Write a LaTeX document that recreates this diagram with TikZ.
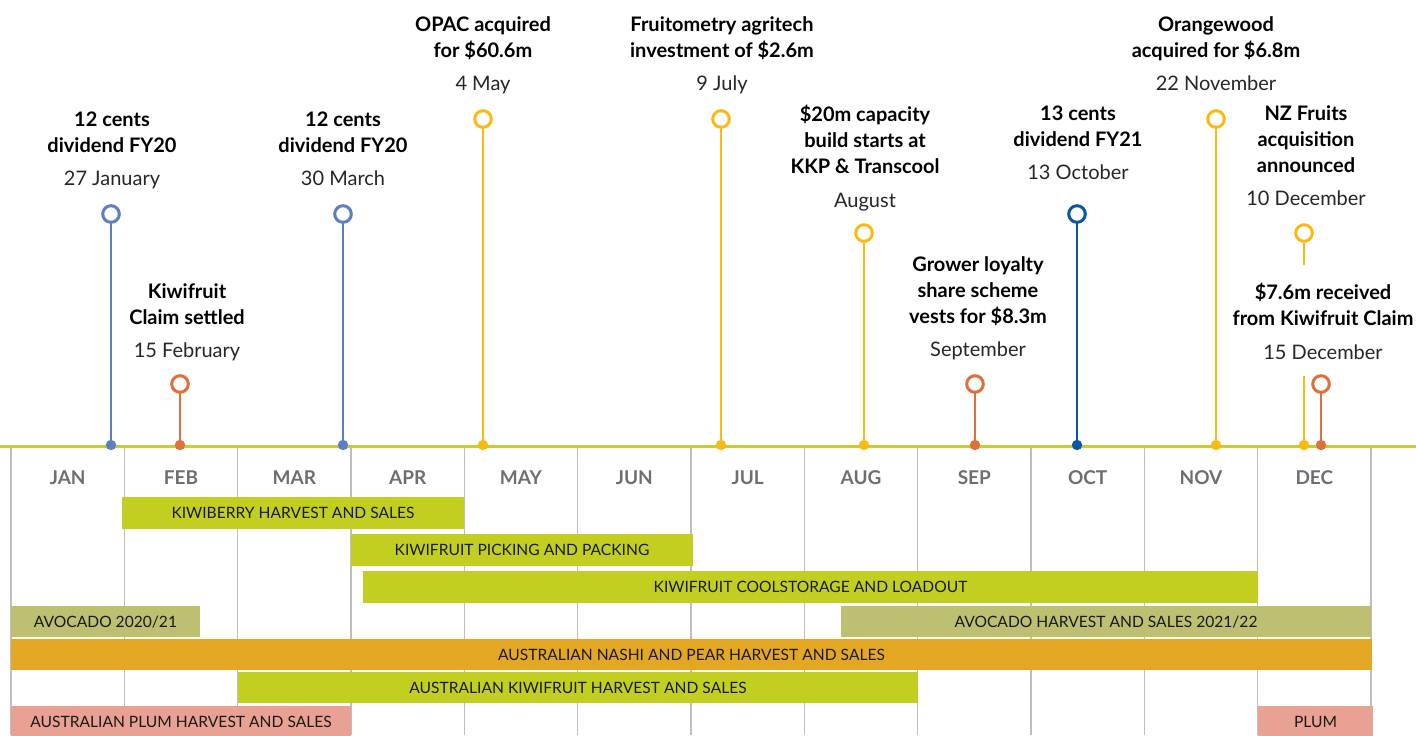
\documentclass[tikz,border=0pt]{standalone}
\usepackage{fontspec}
\setmainfont{Lato}
\usepackage{xcolor}
\usetikzlibrary{positioning}
\definecolor{barlime}{HTML}{C2CF21}
\definecolor{barolive}{HTML}{BCC070}
\definecolor{barorange}{HTML}{E3A724}
\definecolor{barpink}{HTML}{E9A194}
\definecolor{axisgreen}{HTML}{C0D02C}
\definecolor{gridgray}{HTML}{BEBEBE}
\definecolor{monthgray}{HTML}{6D6E71}
\definecolor{evblue}{HTML}{5B7FC0}
\definecolor{evnavy}{HTML}{0B57A4}
\definecolor{evyellow}{HTML}{FDB913}
\definecolor{evorange}{HTML}{E0703A}

\begin{document}
\begin{tikzpicture}[
    x=0.5pt, y=-0.5pt,
    every node/.style={inner sep=0pt, outer sep=0pt},
    evtitle/.style={font=\fontsize{10}{13}\selectfont\bfseries, align=center, anchor=north, text depth=0pt},
    datelbl/.style={font=\fontsize{10}{12}\selectfont, text=black!85, text height=7.2pt, text depth=2pt},
    month/.style  ={font=\fontsize{9.5}{11}\selectfont\bfseries, text=monthgray, anchor=base},
    bar/.style    ={font=\fontsize{7.8}{10}\selectfont, text=black!90, text height=5.6pt, text depth=0pt, minimum height=16pt},
    evring/.style ={circle, draw, line width=1.5pt, fill=white, minimum size=8.3pt},
    evdot/.style  ={circle, minimum size=5.2pt},
    stem/.style   ={line width=1.25pt},
    gridline/.style={draw=gridgray, line width=0.7pt}
]
\useasboundingbox (0,0) rectangle (1416,735);

% Month grid
\foreach \i in {0,...,12}
  \draw[gridline] (11+113.33*\i,447) -- (11+113.33*\i,735);

\node[month] (jan) at (67.7,484)   {JAN};
\node[month] (feb) at (181,484)    {FEB};
\node[month] (mar) at (294.3,484)  {MAR};
\node[month] (apr) at (407.7,484)  {APR};
\node[month] (may) at (521,484)    {MAY};
\node[month] (jun) at (634.3,484)  {JUN};
\node[month] (jul) at (747.7,484)  {JUL};
\node[month] (aug) at (861,484)    {AUG};
\node[month] (sep) at (974.3,484)  {SEP};
\node[month] (oct) at (1087.7,484) {OCT};
\node[month] (nov) at (1201,484)   {NOV};
\node[month] (dec) at (1314.3,484) {DEC};

% Season bars
\node[bar, fill=barlime, minimum width=171pt]   (kiwiberry) at (293,513)   {KIWIBERRY HARVEST AND SALES};
\node[bar, fill=barlime, minimum width=171pt]   (picking)   at (522,550)   {KIWIFRUIT PICKING AND PACKING};
\node[bar, fill=barlime, minimum width=447.5pt] (coolstore) at (810.5,587) {KIWIFRUIT COOLSTORAGE AND LOADOUT};
\node[bar, fill=barolive, minimum width=94.5pt, minimum height=15.5pt] (avoold) at (105.5,621.5) {AVOCADO 2020/21};
\node[bar, fill=barolive, minimum width=265pt, minimum height=15.5pt]  (avonew) at (1106,621.5)  {AVOCADO HARVEST AND SALES 2021/22};
\node[bar, fill=barorange, minimum width=680.5pt, minimum height=15.5pt] (nashi) at (691.5,654.5) {AUSTRALIAN NASHI AND PEAR HARVEST AND SALES};
\node[bar, fill=barlime, minimum width=340pt, minimum height=15.5pt]  (auskiwi) at (578,687.5)   {AUSTRALIAN KIWIFRUIT HARVEST AND SALES};
\node[bar, fill=barpink, minimum width=170pt, minimum height=15.5pt]  (ausplum) at (181,721.5)   {AUSTRALIAN PLUM HARVEST AND SALES};
\node[bar, fill=barpink, minimum width=57.5pt, minimum height=15.5pt] (plum)    at (1315.5,721.5) {PLUM};

% Time axis
\draw[line width=1.5pt, axisgreen] (0,446) -- (1416,446);

% Events: title, date, ring, foot
\node[evtitle] (t1) at (112,111.5) {12 cents\\dividend FY20};
\node[datelbl, below=9.5pt of t1] (d1) {27 January};
\node[evring, draw=evblue] (r1) at (111,214) {};
\node[evdot, fill=evblue]  (p1) at (111,445) {};

\node[evtitle] (t2) at (187,283.5) {Kiwifruit\\Claim settled};
\node[datelbl, below=9.5pt of t2] (d2) {15 February};
\node[evring, draw=evorange] (r2) at (180,384) {};
\node[evdot, fill=evorange]  (p2) at (180,445) {};

\node[evtitle] (t3) at (343,111.5) {12 cents\\dividend FY20};
\node[datelbl, below=9.5pt of t3] (d3) {30 March};
\node[evring, draw=evblue] (r3) at (343,214) {};
\node[evdot, fill=evblue]  (p3) at (343,445) {};

\node[evtitle] (t4) at (483,16.5) {OPAC acquired\\for \$60.6m};
\node[datelbl, below=9.5pt of t4] (d4) {4 May};
\node[evring, draw=evyellow] (r4) at (483,119) {};
\node[evdot, fill=evyellow]  (p4) at (483,445) {};

\node[evtitle] (t5) at (722,16.5) {Fruitometry agritech\\investment of \$2.6m};
\node[datelbl, below=9.5pt of t5] (d5) {9 July};
\node[evring, draw=evyellow] (r5) at (721,119) {};
\node[evdot, fill=evyellow]  (p5) at (721,445) {};

\node[evtitle] (t6) at (865,105.5) {\$20m capacity\\build starts at\\KKP \& Transcool};
\node[datelbl, below=9.5pt of t6] (d6) {August};
\node[evring, draw=evyellow] (r6) at (864,233) {};
\node[evdot, fill=evyellow]  (p6) at (864,445) {};

\node[evtitle] (t7) at (978,256.5) {Grower loyalty\\share scheme\\vests for \$8.3m};
\node[datelbl, below=9.5pt of t7] (d7) {September};
\node[evring, draw=evorange] (r7) at (975,384) {};
\node[evdot, fill=evorange]  (p7) at (975,445) {};

\node[evtitle] (t8) at (1078,105.5) {13 cents\\dividend FY21};
\node[datelbl, below=9.5pt of t8] (d8) {13 October};
\node[evring, draw=evnavy] (r8) at (1077,214) {};
\node[evdot, fill=evnavy]  (p8) at (1077,445) {};

\node[evtitle] (t9) at (1216,16.5) {Orangewood\\acquired for \$6.8m};
\node[datelbl, below=9.5pt of t9] (d9) {22 November};
\node[evring, draw=evyellow] (r9) at (1216,119) {};
\node[evdot, fill=evyellow]  (p9) at (1216,445) {};

\node[evtitle] (t10) at (1306,105.5) {NZ Fruits\\acquisition\\announced};
\node[datelbl, below=9.5pt of t10] (d10) {10 December};
\node[evring, draw=evyellow] (r10) at (1304,233) {};
\node[evdot, fill=evyellow]  (p10) at (1304,445) {};
\coordinate (s10a) at (1304,265);
\coordinate (s10b) at (1304,376);

\node[evtitle] (t11) at (1323,283.5) {\$7.6m received\\from Kiwifruit Claim};
\node[datelbl, below=9.5pt of t11] (d11) {15 December};
\node[evring, draw=evorange] (r11) at (1321,384) {};
\node[evdot, fill=evorange]  (p11) at (1321,445) {};

% Stems
\draw[stem, evblue]   (r1)  -- (p1);
\draw[stem, evorange] (r2)  -- (p2);
\draw[stem, evblue]   (r3)  -- (p3);
\draw[stem, evyellow] (r4)  -- (p4);
\draw[stem, evyellow] (r5)  -- (p5);
\draw[stem, evyellow] (r6)  -- (p6);
\draw[stem, evorange] (r7)  -- (p7);
\draw[stem, evnavy]   (r8)  -- (p8);
\draw[stem, evyellow] (r9)  -- (p9);
\draw[stem, evyellow] (r10) -- (s10a);
\draw[stem, evyellow] (s10b) -- (p10);
\draw[stem, evorange] (r11) -- (p11);

\end{tikzpicture}
\end{document}
